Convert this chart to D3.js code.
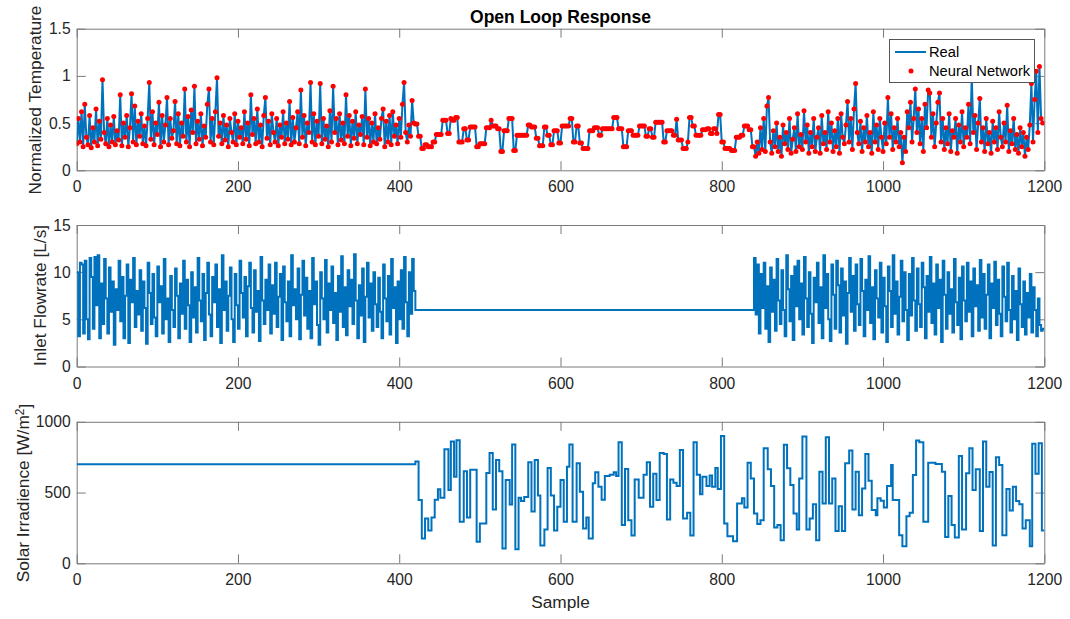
<!DOCTYPE html>
<html><head><meta charset="utf-8">
<script src="https://cdn.jsdelivr.net/npm/d3@7/dist/d3.min.js"></script>
<style>
html,body{margin:0;padding:0;background:#fff;}
svg{display:block;font-family:"Liberation Sans",Arial,Helvetica,sans-serif;}
.tick text{fill:#262626;}
</style></head>
<body><svg id="chart" width="1070" height="619"></svg>
<script>
// ---------- DATA ----------
const title = "Open Loop Response";
const xTicks = [0,200,400,600,800,1000,1200];
const tempTicks = [0,0.5,1,1.5];
const flowTicks = [0,5,10,15];
const solarTicks = [0,500,1000];
const legendLabels = ["Real","Neural Network"];

// Normalized temperature, one value every 2 samples (sample = 2*i)
const tempStep = 2;
const tempVals = [
0.28,0.55,0.30,0.62,0.25,0.70,0.35,0.27,0.58,0.24,
0.45,0.30,0.65,0.26,0.52,0.33,0.96,0.40,0.28,0.55,
0.25,0.48,0.30,0.57,0.27,0.42,0.32,0.80,0.26,0.50,
0.35,0.58,0.25,0.45,0.81,0.30,0.68,0.27,0.52,0.36,
0.60,0.28,0.47,0.26,0.55,0.93,0.33,0.62,0.27,0.50,
0.38,0.72,0.25,0.58,0.30,0.48,0.77,0.27,0.55,0.34,
0.42,0.73,0.28,0.60,0.26,0.50,0.36,0.86,0.30,0.57,
0.25,0.64,0.40,0.89,0.28,0.52,0.33,0.60,0.26,0.47,
0.35,0.70,0.86,0.30,0.55,0.27,0.62,0.98,0.36,0.50,
0.28,0.58,0.32,0.48,0.25,0.55,0.40,0.30,0.60,0.27,
0.52,0.35,0.45,0.28,0.62,0.33,0.50,0.26,0.80,0.38,
0.55,0.28,0.65,0.30,0.48,0.25,0.58,0.77,0.34,0.52,
0.27,0.60,0.40,0.30,0.55,0.26,0.48,0.35,0.62,0.28,
0.50,0.33,0.73,0.27,0.56,0.30,0.45,0.62,0.28,0.85,
0.35,0.58,0.26,0.50,0.40,0.93,0.30,0.60,0.27,0.52,
0.36,0.92,0.28,0.55,0.33,0.47,0.25,0.63,0.30,0.89,
0.40,0.55,0.27,0.60,0.32,0.50,0.28,0.80,0.36,0.58,
0.26,0.52,0.34,0.62,0.28,0.48,0.38,0.57,0.27,0.86,
0.35,0.55,0.26,0.50,0.30,0.60,0.28,0.45,0.33,0.55,
0.65,0.25,0.52,0.30,0.58,0.27,0.62,0.36,0.48,0.28,
0.55,0.35,0.70,0.93,0.40,0.30,0.48,0.36,0.74,0.50,
0.49,0.49,0.36,0.36,0.23,0.23,0.27,0.27,0.25,0.25,
0.25,0.30,0.30,0.38,0.38,0.38,0.38,0.53,0.53,0.53,
0.39,0.39,0.55,0.53,0.53,0.56,0.56,0.30,0.30,0.30,
0.44,0.44,0.32,0.32,0.46,0.46,0.46,0.46,0.25,0.25,
0.28,0.28,0.28,0.28,0.45,0.45,0.45,0.53,0.47,0.47,
0.47,0.44,0.44,0.20,0.20,0.42,0.42,0.42,0.55,0.55,
0.55,0.21,0.21,0.37,0.37,0.37,0.37,0.37,0.37,0.37,
0.48,0.48,0.46,0.46,0.46,0.34,0.34,0.26,0.26,0.26,
0.46,0.46,0.37,0.37,0.27,0.27,0.42,0.42,0.42,0.29,
0.29,0.47,0.47,0.47,0.47,0.47,0.55,0.55,0.30,0.30,
0.47,0.47,0.29,0.29,0.23,0.23,0.23,0.23,0.42,0.42,
0.42,0.45,0.45,0.45,0.37,0.37,0.44,0.44,0.44,0.44,
0.44,0.44,0.44,0.56,0.56,0.56,0.44,0.44,0.44,0.25,
0.25,0.25,0.42,0.42,0.42,0.37,0.37,0.37,0.37,0.47,
0.47,0.47,0.47,0.36,0.36,0.44,0.44,0.35,0.35,0.51,
0.51,0.51,0.51,0.51,0.30,0.30,0.42,0.42,0.42,0.42,
0.37,0.37,0.54,0.32,0.32,0.32,0.23,0.23,0.23,0.30,
0.56,0.56,0.47,0.47,0.37,0.37,0.37,0.37,0.43,0.43,
0.43,0.44,0.44,0.39,0.39,0.44,0.44,0.39,0.59,0.59,
0.30,0.30,0.23,0.23,0.23,0.23,0.21,0.21,0.21,0.35,
0.35,0.35,0.37,0.37,0.47,0.47,0.47,0.43,0.43,0.25,
0.25,0.15,0.30,0.18,0.45,0.22,0.55,0.20,0.68,0.77,
0.30,0.18,0.42,0.25,0.50,0.20,0.35,0.15,0.48,0.28,
0.40,0.22,0.55,0.18,0.33,0.45,0.20,0.60,0.25,0.38,
0.22,0.63,0.30,0.48,0.18,0.40,0.25,0.55,0.20,0.35,
0.45,0.18,0.58,0.28,0.40,0.22,0.62,0.30,0.50,0.20,
0.42,0.25,0.55,0.18,0.60,0.35,0.28,0.48,0.73,0.30,
0.55,0.22,0.65,0.92,0.40,0.28,0.52,0.20,0.45,0.30,
0.58,0.25,0.40,0.18,0.62,0.30,0.48,0.22,0.55,0.35,
0.20,0.50,0.28,0.77,0.35,0.60,0.22,0.45,0.30,0.55,
0.25,0.40,0.08,0.35,0.20,0.62,0.45,0.72,0.30,0.55,
0.86,0.40,0.65,0.28,0.55,0.20,0.70,0.45,0.85,0.82,
0.35,0.60,0.25,0.50,0.72,0.82,0.30,0.55,0.22,0.45,
0.28,0.60,0.20,0.42,0.35,0.55,0.18,0.48,0.30,0.62,
0.25,0.45,0.35,0.70,0.28,1.00,0.40,0.58,0.22,0.50,
0.76,0.30,0.45,0.20,0.55,0.28,0.40,0.18,0.52,0.30,
0.45,0.22,0.62,0.35,0.25,0.50,0.30,0.69,0.20,0.42,
0.28,0.55,0.22,0.38,0.18,0.45,0.25,0.40,0.15,0.35,
0.22,0.48,0.92,0.30,0.75,1.05,0.40,1.10,0.55,0.50
];

// Inlet flowrate [L/s]: first active block (from sample 0), held level, second active block (from sample 840), one value every 2 samples
const flowStep = 2;
const flowStart1 = 0;
const flowBlock1 = [
10.0,3.2,11.0,10.8,3.5,11.2,5.0,2.9,11.5,9.5,
4.0,11.6,6.5,11.8,3.0,8.8,4.5,11.4,7.2,3.5,
10.5,5.8,9.0,2.3,8.2,6.0,11.2,4.8,9.5,3.0,
7.5,10.8,2.5,9.2,6.8,11.5,4.2,8.0,5.5,10.2,
3.8,9.0,6.2,2.4,11.0,7.8,4.5,9.8,5.2,3.2,
10.6,6.8,8.5,3.5,11.4,5.0,7.2,2.6,9.6,6.0,
4.2,10.4,7.5,3.0,8.8,5.6,11.2,4.0,9.2,6.5,
2.6,10.0,5.2,8.4,3.6,11.5,7.0,4.8,9.8,2.8,
7.8,11.0,5.5,3.2,9.5,6.8,10.8,4.2,8.2,2.5,
11.8,6.0,9.0,3.8,7.5,10.5,5.0,2.6,9.8,6.5,
4.0,11.2,7.8,5.2,9.5,3.2,8.5,11.0,6.2,3.6,
10.2,5.8,8.0,2.7,11.6,7.0,4.5,9.2,6.0,10.8,
3.5,8.6,5.6,11.0,4.2,7.4,9.8,2.8,10.6,6.8,
4.8,9.0,3.2,11.8,6.5,8.2,5.0,10.4,2.9,7.6,
11.2,5.4,9.4,4.0,8.0,3.0,11.5,6.6,9.0,4.4,
2.3,10.0,7.2,5.0,11.3,3.6,8.8,6.0,10.6,4.6,
7.8,2.8,9.6,5.8,11.7,4.2,8.4,3.3,10.2,6.4,
9.2,4.5,11.9,7.0,3.0,8.6,5.4,10.4,2.6,7.4,
11.0,5.2,8.8,3.8,10.0,6.6,4.2,9.4,5.8,3.0,
10.8,7.2,4.8,9.6,3.4,11.4,6.2,8.4,2.5,9.0,
5.0,10.2,4.0,11.6,6.8,3.2,10.0,5.6,11.4,8.0
];
const flowHoldStart = 420;
const flowHoldValue = 6.0;
const flowStart2 = 840;
const flowBlock2 = [
11.5,5.5,10.8,3.5,9.8,6.2,11.0,4.0,8.5,2.6,
10.5,5.8,9.2,3.8,11.4,7.0,4.5,10.2,6.0,3.2,
11.8,8.2,4.8,9.6,2.8,10.6,6.4,11.2,5.0,8.8,
3.4,11.6,7.2,4.2,10.0,5.6,2.5,9.4,6.8,11.0,
4.6,8.4,3.0,11.8,6.2,9.8,5.0,2.7,10.8,7.6,
4.0,11.2,8.6,3.6,10.4,5.4,9.0,2.4,7.8,11.5,
5.8,9.6,3.8,10.8,6.6,4.4,11.4,8.0,3.2,9.2,
6.0,11.7,4.6,8.4,2.9,10.2,7.2,5.2,11.0,3.6,
9.4,6.4,2.6,10.6,8.0,4.2,11.8,5.6,9.0,3.4,
7.4,11.2,4.8,10.0,6.0,2.8,9.8,5.4,11.5,7.0,
3.8,10.4,6.6,4.2,11.0,8.4,3.0,9.6,5.8,11.6,
4.6,8.8,3.4,10.8,6.2,9.2,2.6,11.2,7.6,4.0,
10.0,5.6,8.2,3.6,11.4,6.8,4.4,9.4,2.9,10.6,
7.0,4.8,11.0,5.8,9.0,3.2,10.4,6.4,8.6,3.8,
11.3,5.2,9.8,4.0,7.6,10.8,3.0,8.8,6.2,11.1,
4.4,9.2,5.6,3.2,10.6,7.4,4.8,11.0,6.0,3.6,
9.6,5.0,8.0,2.8,10.4,6.6,4.2,9.0,3.4,7.8,
5.2,9.8,3.6,8.4,6.0,3.2,7.2,4.4,3.8,4.0
];

// Solar irradiance [W/m^2]: step start samples and levels
const solarStart = [0,420,424,428,432,436,440,444,448,451,456,461,464,468,471,475,480,484,488,496,500,508,512,516,520,524,528,532,537,540,544,548,551,555,560,564,568,572,575,580,584,588,592,596,600,604,608,611,615,620,624,628,632,635,640,643,647,651,655,661,666,669,672,676,680,684,688,692,697,703,707,711,715,719,723,728,732,736,740,744,748,752,757,761,765,769,773,776,781,785,788,792,795,799,803,807,814,819,825,828,832,836,840,844,848,852,857,861,865,869,873,877,881,885,889,893,896,900,905,909,913,917,921,925,929,933,937,941,945,949,953,958,962,966,970,974,978,982,986,991,993,997,1001,1005,1010,1012,1020,1024,1029,1033,1037,1041,1045,1050,1056,1065,1073,1077,1081,1085,1089,1094,1098,1103,1107,1111,1115,1120,1124,1128,1132,1136,1140,1144,1148,1153,1157,1161,1165,1169,1173,1177,1182,1185,1189,1193,1197];
const solarLevel = [700,720,447,175,317,232,324,450,523,463,806,518,860,612,870,293,650,324,662,153,281,638,780,380,730,650,105,588,415,840,100,463,440,468,715,366,730,480,125,238,674,480,232,400,588,293,683,840,293,707,506,246,324,175,565,643,541,450,617,625,643,617,855,270,667,305,196,593,463,625,715,400,632,447,780,773,310,593,570,546,800,317,357,196,855,625,488,612,546,620,541,674,525,900,281,191,156,423,459,395,711,600,352,277,305,813,664,546,253,270,163,837,671,553,352,239,600,896,239,317,418,163,647,423,891,423,600,229,404,229,707,797,381,647,340,529,773,584,376,340,459,442,395,546,694,447,199,121,333,357,624,867,855,293,711,702,647,186,475,270,182,759,239,636,813,518,664,229,860,541,645,125,749,694,199,525,374,541,440,418,246,305,121,844,632,848,232];

// ---------- CHART ----------
const svg = d3.select("#chart");
const BLUE = "#0072BD", RED = "#FF0000", AXIS = "#7a7a7a", TXT = "#262626";
const left = 76.7, right = 1044.3;
const x = d3.scaleLinear().domain([0,1200]).range([left,right]);
const yT = d3.scaleLinear().domain([0,1.5]).range([170.3,28.7]);
const yF = d3.scaleLinear().domain([0,15]).range([366.5,225]);
const yS = d3.scaleLinear().domain([0,1000]).range([563.3,421.8]);

function panel(y, yTicks, labelX, labelY, clipId){
  const [y0,y1] = y.range();
  svg.append("defs").append("clipPath").attr("id",clipId)
    .append("rect").attr("x",left).attr("y",y1).attr("width",right-left).attr("height",y0-y1);
  const fmt = d => String(d);
  const gB = svg.append("g").attr("transform",`translate(0,${y0})`)
    .call(d3.axisBottom(x).tickValues(xTicks).tickFormat(fmt).tickSizeInner(-9).tickSizeOuter(0).tickPadding(11));
  const gT = svg.append("g").attr("transform",`translate(0,${y1})`)
    .call(d3.axisTop(x).tickValues(xTicks).tickFormat("").tickSizeInner(-9).tickSizeOuter(0));
  const gL = svg.append("g").attr("transform",`translate(${left},0)`)
    .call(d3.axisLeft(y).tickValues(yTicks).tickFormat(fmt).tickSizeInner(-9).tickSizeOuter(0).tickPadding(6));
  const gR = svg.append("g").attr("transform",`translate(${right},0)`)
    .call(d3.axisRight(y).tickValues(yTicks).tickFormat("").tickSizeInner(-9).tickSizeOuter(0));
  [gB,gT,gL,gR].forEach(g=>{
    g.select(".domain").attr("stroke",AXIS).attr("stroke-width",1);
    g.selectAll(".tick line").attr("stroke",AXIS).attr("stroke-width",1);
    g.selectAll(".tick text").attr("fill",TXT).style("font-size","15.7px").attr("font-family","Liberation Sans, Arial, sans-serif");
  });
  return svg.append("text").attr("transform",`translate(${labelX},${labelY}) rotate(-90)`)
    .attr("text-anchor","middle").attr("fill",TXT).style("font-size","17.3px");
}

// top panel
panel(yT, tempTicks, 41, 100, "cT").text("Normalized Temperature");
const tempData = tempVals.map((v,i)=>[i*tempStep, v]);
const gTop = svg.append("g").attr("clip-path","url(#cT)");
gTop.append("path").datum(tempData)
  .attr("d", d3.line().x(d=>x(d[0])).y(d=>yT(d[1])))
  .attr("fill","none").attr("stroke",BLUE).attr("stroke-width",2).attr("stroke-linejoin","round");
gTop.selectAll("circle.nn").data(tempData).join("circle").attr("class","nn")
  .attr("cx",d=>x(d[0])).attr("cy",d=>yT(d[1])).attr("r",2.5).attr("fill",RED);

// middle panel
panel(yF, flowTicks, 46, 295.5, "cF").text("Inlet Flowrate [L/s]");
const flowData = [];
flowBlock1.forEach((v,i)=>flowData.push([flowStart1 + i*flowStep, v]));
flowData.push([flowHoldStart, flowHoldValue]);
flowBlock2.forEach((v,i)=>flowData.push([flowStart2 + i*flowStep, v]));
flowData.push([1200, flowBlock2[flowBlock2.length-1]]);
svg.append("g").attr("clip-path","url(#cF)").append("path").datum(flowData)
  .attr("d", d3.line().curve(d3.curveStepAfter).x(d=>x(d[0])).y(d=>yF(d[1])))
  .attr("fill","none").attr("stroke",BLUE).attr("stroke-width",2);

// bottom panel
const lb = panel(yS, solarTicks, 29, 493, "cS");
lb.append("tspan").text("Solar Irradience [W/m");
lb.append("tspan").attr("dy","-0.45em").style("font-size","12px").text("2");
lb.append("tspan").attr("dy","0.45em").text("]");
const solarData = solarStart.map((s,i)=>[s, solarLevel[i]]);
solarData.push([1200, solarLevel[solarLevel.length-1]]);
svg.append("g").attr("clip-path","url(#cS)").append("path").datum(solarData)
  .attr("d", d3.line().curve(d3.curveStepAfter).x(d=>x(d[0])).y(d=>yS(d[1])))
  .attr("fill","none").attr("stroke",BLUE).attr("stroke-width",2);

// title and x label
svg.append("text").attr("x",(left+right)/2).attr("y",22.7).attr("text-anchor","middle")
  .attr("fill","#000").style("font-size","17.5px").style("font-weight","bold").text(title);
svg.append("text").attr("x",(left+right)/2).attr("y",608.3).attr("text-anchor","middle")
  .attr("fill",TXT).style("font-size","17.3px").text("Sample");

// legend
const lg = svg.append("g");
lg.append("rect").attr("x",889.5).attr("y",39.5).attr("width",145).attr("height",43)
  .attr("fill","#fff").attr("stroke","#555").attr("stroke-width",1);
lg.append("line").attr("x1",895).attr("x2",926).attr("y1",52).attr("y2",52)
  .attr("stroke",BLUE).attr("stroke-width",2);
lg.append("circle").attr("cx",911).attr("cy",71).attr("r",2.5).attr("fill",RED);
lg.append("text").attr("x",929).attr("y",57).attr("fill","#000").style("font-size","14.7px").text(legendLabels[0]);
lg.append("text").attr("x",929).attr("y",76).attr("fill","#000").style("font-size","14.7px").text(legendLabels[1]);
</script></body></html>
